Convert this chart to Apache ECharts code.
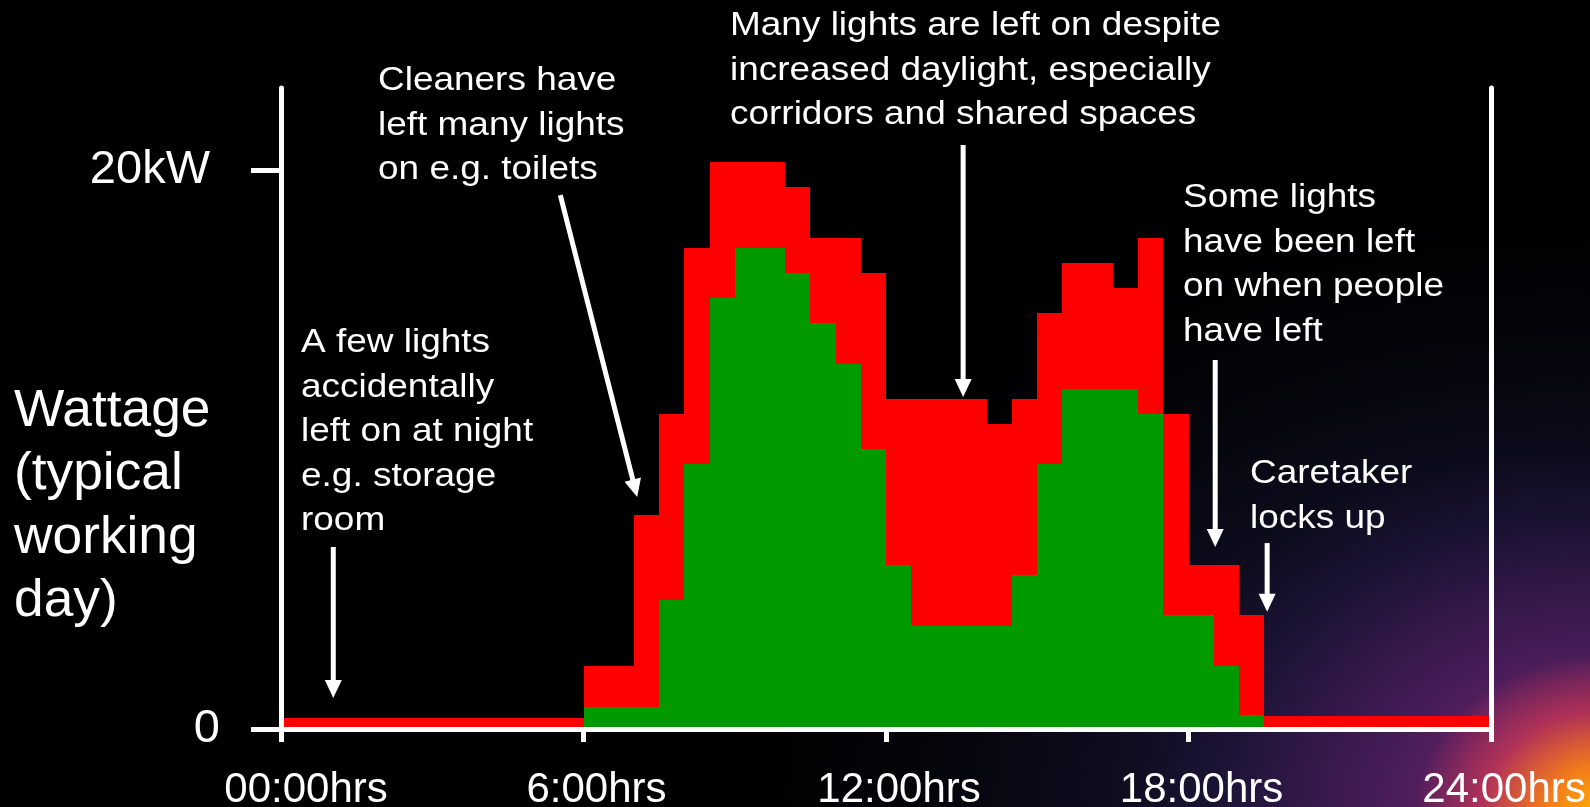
<!DOCTYPE html>
<html><head><meta charset="utf-8">
<script src="https://cdn.jsdelivr.net/npm/echarts@6/dist/echarts.min.js"></script>
<style>
html,body{margin:0;padding:0;width:1590px;height:807px;overflow:hidden;background:#000;}
#bg{position:absolute;left:0;top:0;width:1590px;height:807px;
background:
 radial-gradient(ellipse 190px 160px at 1605px 815px, rgba(255,180,0,1) 0%, rgba(250,130,20,0.95) 30%, rgba(225,60,80,0.6) 65%, rgba(160,30,120,0) 100%),
 radial-gradient(ellipse 460px 360px at 1590px 807px, rgba(170,40,120,0.75) 0%, rgba(110,35,120,0.5) 45%, rgba(60,30,100,0.2) 80%, rgba(0,0,0,0) 100%),
 radial-gradient(ellipse 850px 620px at 1560px 807px, rgba(60,40,110,0.7) 0%, rgba(35,30,75,0.5) 45%, rgba(15,15,35,0.3) 75%, rgba(0,0,0,0) 100%),
 #000;}
#chart{position:absolute;left:0;top:0;width:1590px;height:807px;}
</style></head><body><div id="bg"></div><div id="chart"></div>
<script>
// half-hour slot start times (hours)
const slotHours = Array.from({length: 48}, (_, i) => i * 0.5);
// essential lighting load (green), kW per half-hour slot
const greenKW = [
  0,0,0,0,0,0,0,0,0,0,0,0,
  0.78,0.78,0.78,4.62,9.48,15.43,17.22,17.22,16.33,14.53,13.07,10.02,
  5.87,3.70,3.70,3.70,3.70,5.50,9.48,12.16,12.16,12.16,11.27,4.08,
  4.08,2.25,0.50,0,0,0,0,0,0,0,0,0
];
// wasted lighting load (red), kW per half-hour slot (stacked on green)
const redKW = [
  0.40,0.40,0.40,0.40,0.40,0.40,0.40,0.40,0.40,0.40,0.40,0.40,
  1.47,1.47,6.88,6.65,7.74,4.86,3.07,3.07,3.07,3.05,4.51,6.31,
  5.95,8.12,8.12,8.12,7.22,6.32,5.40,4.51,4.51,3.63,6.30,7.19,
  1.79,3.62,3.58,0.45,0.45,0.45,0.45,0.45,0.45,0.45,0.45,0.45
];
const slotWidth = 0.5;
const xTickValues = [0, 6, 12, 18, 24];
const xTickLabels = ['00:00hrs', '6:00hrs', '12:00hrs', '18:00hrs', '24:00hrs'];
const yTickValues = [0, 20];
const yTickLabels = ['0', '20kW'];
const yMax = 22.93;
const yTitle = 'Wattage\n(typical\nworking\nday)';
const notes = [
  {text: 'Cleaners have\nleft many lights\non e.g. toilets', x: 378, y: 59, from: [5.54, 19.1], to: [7.065, 8.30]},
  {text: 'A few lights\naccidentally\nleft on at night\ne.g. storage\nroom', x: 301, y: 321, from: [1.037, 6.51], to: [1.037, 1.11]},
  {text: 'Many lights are left on despite\nincreased daylight, especially\ncorridors and shared spaces', x: 730, y: 4, from: [13.53, 20.89], to: [13.53, 11.88]},
  {text: 'Some lights\nhave been left\non when people\nhave left', x: 1183, y: 176, from: [18.53, 13.2], to: [18.53, 6.51]},
  {text: 'Caretaker\nlocks up', x: 1250, y: 452, from: [19.56, 6.65], to: [19.56, 4.19]}
];

const greenData = slotHours.map((h, i) => [h, 0, greenKW[i]]);
const redData = slotHours.map((h, i) => [h, greenKW[i], greenKW[i] + redKW[i]]);

function renderSlot(color) {
  return function (params, api) {
    const h = api.value(0), lo = api.value(1), hi = api.value(2);
    if (hi <= lo) return null;
    const a = api.coord([h, lo]);
    const b = api.coord([h + slotWidth, hi]);
    const x0 = Math.round(a[0]), x1 = Math.round(b[0]);
    const y0 = Math.round(a[1]), y1 = Math.round(b[1]);
    return {type: 'rect', shape: {x: x0, y: y1, width: x1 - x0, height: y0 - y1},
      style: {fill: color}};
  };
}

const FONT = '"Liberation Sans", Arial, Helvetica, sans-serif';
const chart = echarts.init(document.getElementById('chart'), null, {renderer: 'canvas'});
const option = {
  backgroundColor: 'transparent',
  animation: false,
  grid: {left: 281, right: 99, top: 88, bottom: 78, containLabel: false, outerBoundsMode: 'none'},
  xAxis: {
    type: 'value', min: 0, max: 24, interval: 6, z: 5,
    axisLine: {show: true, onZero: false, lineStyle: {color: '#fff', width: 5}},
    axisTick: {show: true, length: 13, lineStyle: {color: '#fff', width: 5}},
    axisLabel: {color: '#fff', fontSize: 42, fontFamily: FONT, margin: 40,
      formatter: v => { const k = xTickValues.indexOf(v); if (k < 0) return ''; return (k === 0 ? '{f|' : '{o|') + xTickLabels[k] + '}'; },
      rich: {
        f: {color: '#fff', fontSize: 42, fontFamily: FONT, padding: [0, 0, 0, 50]},
        o: {color: '#fff', fontSize: 42, fontFamily: FONT, padding: [0, 0, 0, 26]}
      }},
    splitLine: {show: false}
  },
  yAxis: [{
    type: 'value', min: 0, max: yMax, position: 'left', z: 5,
    axisLine: {show: true, onZero: false, lineStyle: {color: '#fff', width: 5}},
    axisTick: {show: true, length: 30, customValues: yTickValues, lineStyle: {color: '#fff', width: 5}},
    axisLabel: {show: true, customValues: yTickValues, color: '#fff', fontSize: 47, fontFamily: FONT, margin: 61,
      formatter: v => { const k = yTickValues.indexOf(v); if (k < 0) return ''; return k === 1 ? '{b|' + yTickLabels[k] + '}' : yTickLabels[k]; },
      rich: {b: {color: '#fff', fontSize: 47, fontFamily: FONT, padding: [0, 10, 0, 0]}}},
    splitLine: {show: false}
  }, {
    type: 'value', min: 0, max: yMax, position: 'right', z: 5,
    axisLine: {show: true, onZero: false, lineStyle: {color: '#fff', width: 5}},
    axisTick: {show: false}, axisLabel: {show: false}, splitLine: {show: false}
  }],
  series: [{
    type: 'custom', name: 'Needed', z: 1, renderItem: renderSlot('#009900'),
    encode: {x: 0, y: [1, 2]}, data: greenData, emphasis: {disabled: true}
  }, {
    type: 'custom', name: 'Wasted', z: 1, renderItem: renderSlot('#ff0000'),
    encode: {x: 0, y: [1, 2]}, data: redData, emphasis: {disabled: true}
  }]
};
chart.setOption(option);

const graphics = [];
graphics.push({type: 'text', x: 14, y: 380, scaleX: 1.045, z: 10,
  style: {text: yTitle, fill: '#fff', fontSize: 51, fontFamily: FONT, lineHeight: 63.5, align: 'left', verticalAlign: 'top'}});
notes.forEach(n => {
  graphics.push({type: 'text', x: n.x, y: n.y, scaleX: 1.12, z: 10,
    style: {text: n.text, fill: '#fff', fontSize: 33, fontFamily: FONT, lineHeight: 44.5, align: 'left', verticalAlign: 'top'}});
  const p1 = chart.convertToPixel({gridIndex: 0}, n.from);
  const p2 = chart.convertToPixel({gridIndex: 0}, n.to);
  const dx = p2[0] - p1[0], dy = p2[1] - p1[1];
  const len = Math.sqrt(dx * dx + dy * dy);
  const ux = dx / len, uy = dy / len;
  const head = 18, hw = 8.5;
  const bx = p2[0] - ux * head, by = p2[1] - uy * head;
  graphics.push({type: 'line', z: 10, shape: {x1: p1[0], y1: p1[1], x2: bx + ux * 2, y2: by + uy * 2},
    style: {stroke: '#fff', lineWidth: 5}});
  graphics.push({type: 'polygon', z: 10, shape: {points: [[p2[0], p2[1]], [bx - uy * hw, by + ux * hw], [bx + uy * hw, by - ux * hw]]},
    style: {fill: '#fff'}});
});
chart.setOption({graphic: graphics});
</script></body></html>
